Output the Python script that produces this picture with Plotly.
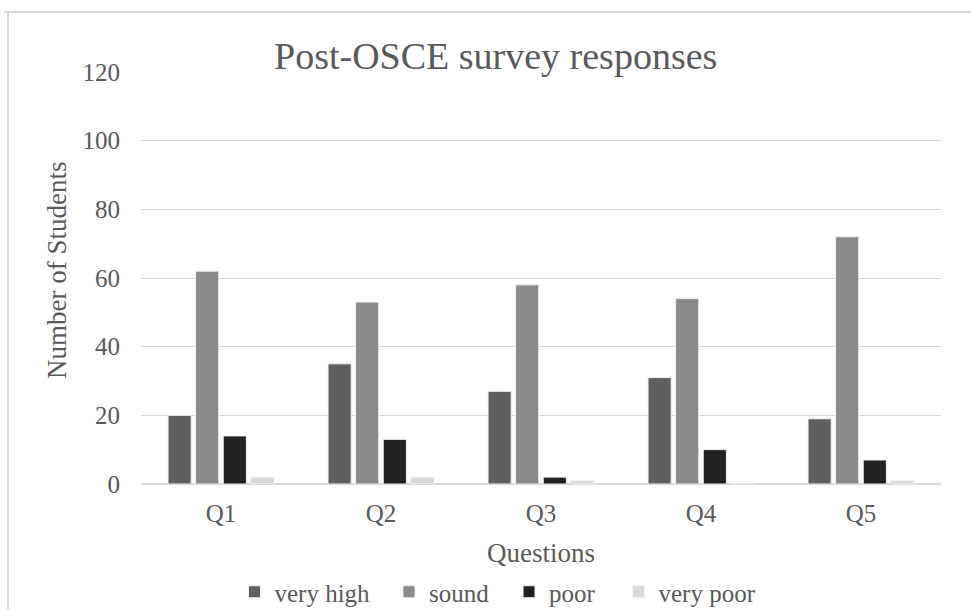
import plotly.graph_objects as go

# Survey data: counts of students per response level for each question
questions = ["Q1", "Q2", "Q3", "Q4", "Q5"]
very_high = [20, 35, 27, 31, 19]
sound = [62, 53, 58, 54, 72]
poor = [14, 13, 2, 10, 7]
very_poor = [2, 2, 1, 0, 1]

series = [
    ("very high", very_high, "#606060"),
    ("sound", sound, "#8a8a8a"),
    ("poor", poor, "#222222"),
    ("very poor", very_poor, "#d9d9d9"),
]

FONT = "Liberation Serif"
TEXT = "#595959"
GRID = "#d9d9d9"

W, H = 971, 610
L, R, T, B = 141, 30, 72, 126
pw, ph = W - L - R, H - T - B

def px_x(x):
    return (x - L) / pw

def px_y(y):
    return (H - B - y) / ph

# one legend per series so the entries can be spread along the bottom
legend_ids = ["legend", "legend2", "legend3", "legend4"]
legend_centers = [305, 442, 555, 690]

fig = go.Figure()
for (name, vals, color), lid in zip(series, legend_ids):
    fig.add_trace(go.Bar(
        x=questions, y=vals, name=name, legend=lid,
        marker=dict(color=color, line=dict(color="#f2f2f2", width=1)),
    ))

legend_layout = {}
for lid, cx in zip(legend_ids, legend_centers):
    legend_layout[lid] = dict(
        orientation="h", x=px_x(cx), xanchor="center",
        y=px_y(592), yanchor="middle",
        font=dict(family=FONT, size=25, color=TEXT),
        itemwidth=30, bgcolor="rgba(0,0,0,0)",
    )

fig.update_layout(
    width=W, height=H,
    margin=dict(l=L, r=R, t=T, b=B, autoexpand=False),
    paper_bgcolor="white", plot_bgcolor="white",
    font=dict(family=FONT, color=TEXT, size=25),
    barmode="group", bargap=0.31, bargroupgap=0.16,
    showlegend=True,
    xaxis=dict(
        showgrid=False, showline=False, ticks="", ticklabelstandoff=12,
        tickfont=dict(size=25, color=TEXT),
    ),
    yaxis=dict(
        range=[0, 120], dtick=20, showgrid=True, gridcolor=GRID, gridwidth=1,
        zeroline=True, zerolinecolor=GRID, zerolinewidth=1.5,
        showline=False, ticks="", ticklabelstandoff=20,
        tickfont=dict(size=25, color=TEXT),
    ),
    annotations=[
        dict(text="Post-OSCE survey responses", x=px_x(495), y=px_y(56),
             xref="paper", yref="paper", showarrow=False,
             xanchor="center", yanchor="middle",
             font=dict(family=FONT, size=38, color=TEXT)),
        dict(text="Number of Students", x=px_x(57), y=px_y(271),
             xref="paper", yref="paper", showarrow=False, textangle=-90,
             xanchor="center", yanchor="middle",
             font=dict(family=FONT, size=27, color=TEXT)),
        dict(text="Questions", x=px_x(541), y=px_y(553),
             xref="paper", yref="paper", showarrow=False,
             xanchor="center", yanchor="middle",
             font=dict(family=FONT, size=27, color=TEXT)),
    ],
    shapes=[
        dict(type="line", xref="paper", yref="paper",
             x0=px_x(4), x1=px_x(975), y0=px_y(12), y1=px_y(12),
             line=dict(color=GRID, width=2)),
        dict(type="line", xref="paper", yref="paper",
             x0=px_x(8), x1=px_x(8), y0=px_y(12), y1=px_y(615),
             line=dict(color=GRID, width=2)),
    ],
    **legend_layout,
)

fig.write_html("out.html")
